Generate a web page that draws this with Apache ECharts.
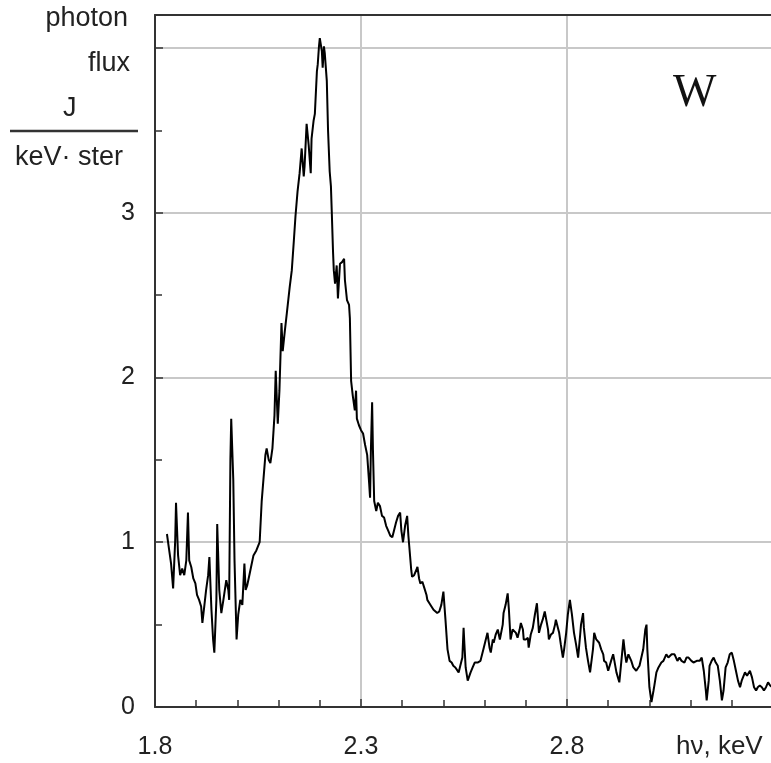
<!DOCTYPE html>
<html>
<head>
<meta charset="utf-8">
<script src="https://cdn.jsdelivr.net/npm/echarts@6/dist/echarts.min.js"></script>
<style>
  html, body { margin: 0; padding: 0; background: #fff; }
  #main { width: 771px; height: 763px; }
</style>
</head>
<body>
<div id="main"></div>
<script>
// photon energy, keV
var energy = [
  1.829, 1.834, 1.839, 1.844, 1.849, 1.851, 1.856, 1.861, 1.866, 1.871,
  1.876, 1.880, 1.883, 1.888, 1.893, 1.898, 1.902, 1.907, 1.912, 1.915,
  1.920, 1.924, 1.929, 1.932, 1.937, 1.941, 1.944, 1.949, 1.951, 1.956,
  1.961, 1.966, 1.973, 1.978, 1.980, 1.983, 1.985, 1.990, 1.993, 1.998,
  2.002, 2.007, 2.012, 2.017, 2.020, 2.024, 2.029, 2.034, 2.039, 2.046,
  2.054, 2.059, 2.063, 2.068, 2.071, 2.076, 2.080, 2.085, 2.090, 2.093,
  2.098, 2.102, 2.107, 2.110, 2.115, 2.120, 2.127, 2.132, 2.137, 2.141,
  2.146, 2.151, 2.156, 2.161, 2.163, 2.168, 2.173, 2.178, 2.180, 2.185,
  2.188, 2.193, 2.195, 2.198, 2.200, 2.205, 2.207, 2.210, 2.212, 2.217,
  2.220, 2.222, 2.224, 2.227, 2.229, 2.232, 2.234, 2.237, 2.241, 2.244,
  2.249, 2.254, 2.259, 2.261, 2.266, 2.271, 2.273, 2.276, 2.280, 2.285,
  2.288, 2.290, 2.295, 2.300, 2.305, 2.310, 2.315, 2.320, 2.322, 2.324,
  2.327, 2.329, 2.332, 2.337, 2.341, 2.346, 2.351, 2.356, 2.361, 2.366,
  2.371, 2.376, 2.380, 2.385, 2.390, 2.395, 2.398, 2.402, 2.407, 2.412,
  2.415, 2.417, 2.422, 2.424, 2.429, 2.434, 2.437, 2.441, 2.444, 2.449,
  2.454, 2.459, 2.461, 2.466, 2.471, 2.476, 2.480, 2.485, 2.490, 2.495,
  2.500, 2.505, 2.510, 2.515, 2.520, 2.524, 2.529, 2.537, 2.541, 2.546,
  2.549, 2.551, 2.554, 2.559, 2.561, 2.566, 2.571, 2.576, 2.583, 2.590,
  2.598, 2.602, 2.607, 2.612, 2.615, 2.620, 2.622, 2.627, 2.632, 2.637,
  2.639, 2.644, 2.646, 2.651, 2.656, 2.659, 2.663, 2.668, 2.671, 2.676,
  2.680, 2.685, 2.688, 2.693, 2.695, 2.700, 2.705, 2.707, 2.712, 2.717,
  2.722, 2.727, 2.732, 2.737, 2.741, 2.746, 2.749, 2.754, 2.756, 2.761,
  2.766, 2.771, 2.773, 2.778, 2.781, 2.785, 2.790, 2.793, 2.798, 2.802,
  2.807, 2.810, 2.812, 2.817, 2.822, 2.827, 2.832, 2.834, 2.839, 2.841,
  2.846, 2.851, 2.856, 2.859, 2.863, 2.866, 2.871, 2.878, 2.883, 2.888,
  2.890, 2.895, 2.900, 2.907, 2.912, 2.915, 2.920, 2.927, 2.932, 2.937,
  2.941, 2.944, 2.949, 2.951, 2.956, 2.961, 2.968, 2.976, 2.980, 2.985,
  2.990, 2.993, 2.995, 3.000, 3.005, 3.010, 3.012, 3.017, 3.022, 3.029,
  3.034, 3.041, 3.046, 3.054, 3.061, 3.068, 3.073, 3.078, 3.085, 3.090,
  3.095, 3.102, 3.107, 3.115, 3.122, 3.127, 3.132, 3.137, 3.139, 3.144,
  3.146, 3.151, 3.156, 3.161, 3.166, 3.171, 3.176, 3.180, 3.185, 3.190,
  3.195, 3.200, 3.205, 3.210, 3.215, 3.220, 3.224, 3.232, 3.237, 3.244,
  3.249, 3.254, 3.259, 3.263, 3.268, 3.273, 3.278, 3.283, 3.288, 3.293,
  3.298
];

// photon flux J, per keV per ster
var flux = [
  1.05, 0.96, 0.87, 0.72, 1.01, 1.24, 0.92, 0.80, 0.84, 0.80,
  0.89, 1.18, 0.89, 0.85, 0.78, 0.75, 0.68, 0.65, 0.61, 0.51,
  0.62, 0.71, 0.80, 0.91, 0.59, 0.41, 0.33, 0.65, 1.11, 0.71,
  0.57, 0.65, 0.77, 0.71, 0.65, 1.50, 1.75, 1.38, 0.89, 0.41,
  0.56, 0.65, 0.62, 0.87, 0.71, 0.74, 0.80, 0.86, 0.92, 0.95,
  1.00, 1.25, 1.26, 1.53, 1.57, 1.50, 1.48, 1.57, 1.77, 2.04,
  1.72, 1.92, 2.33, 2.16, 2.28, 2.39, 2.55, 2.65, 2.83, 2.98,
  3.13, 3.24, 3.39, 3.22, 3.28, 3.54, 3.41, 3.24, 3.45, 3.56,
  3.60, 3.86, 3.90, 4.01, 4.06, 3.98, 3.88, 4.01, 3.97, 3.80,
  3.50, 3.50, 3.25, 3.16, 3.01, 2.77, 2.65, 2.57, 2.68, 2.48,
  2.69, 2.70, 2.72, 2.59, 2.47, 2.44, 2.36, 1.98, 1.89, 1.80,
  1.92, 1.75, 1.71, 1.68, 1.66, 1.59, 1.53, 1.35, 1.27, 1.56,
  1.85, 1.56, 1.25, 1.19, 1.24, 1.22, 1.16, 1.15, 1.10, 1.07,
  1.04, 1.03, 1.07, 1.12, 1.16, 1.18, 1.07, 1.00, 1.10, 1.16,
  1.04, 0.98, 0.83, 0.79, 0.80, 0.83, 0.85, 0.78, 0.75, 0.76,
  0.72, 0.68, 0.65, 0.63, 0.61, 0.59, 0.58, 0.57, 0.58, 0.62,
  0.70, 0.53, 0.35, 0.28, 0.27, 0.25, 0.24, 0.21, 0.25, 0.30,
  0.48, 0.38, 0.24, 0.16, 0.15, 0.21, 0.24, 0.27, 0.27, 0.28,
  0.36, 0.35, 0.45, 0.36, 0.33, 0.41, 0.39, 0.44, 0.47, 0.41,
  0.42, 0.50, 0.57, 0.62, 0.69, 0.59, 0.41, 0.47, 0.48, 0.45,
  0.42, 0.47, 0.51, 0.47, 0.41, 0.41, 0.42, 0.36, 0.44, 0.48,
  0.56, 0.63, 0.45, 0.50, 0.53, 0.58, 0.59, 0.47, 0.41, 0.44,
  0.45, 0.50, 0.53, 0.48, 0.45, 0.38, 0.30, 0.35, 0.45, 0.56,
  0.65, 0.66, 0.56, 0.45, 0.38, 0.30, 0.44, 0.50, 0.57, 0.48,
  0.36, 0.28, 0.21, 0.21, 0.35, 0.45, 0.41, 0.39, 0.35, 0.32,
  0.28, 0.27, 0.22, 0.28, 0.32, 0.28, 0.21, 0.15, 0.28, 0.41,
  0.32, 0.27, 0.32, 0.33, 0.28, 0.24, 0.22, 0.25, 0.24, 0.35,
  0.47, 0.50, 0.35, 0.12, 0.03, 0.10, 0.13, 0.21, 0.24, 0.27,
  0.28, 0.32, 0.30, 0.32, 0.32, 0.28, 0.30, 0.28, 0.27, 0.30,
  0.30, 0.28, 0.27, 0.28, 0.28, 0.30, 0.22, 0.10, 0.04, 0.16,
  0.25, 0.28, 0.30, 0.27, 0.25, 0.16, 0.04, 0.10, 0.24, 0.27,
  0.32, 0.33, 0.28, 0.22, 0.16, 0.12, 0.16, 0.21, 0.19, 0.22,
  0.18, 0.12, 0.10, 0.12, 0.13, 0.12, 0.10, 0.12, 0.15, 0.13,
  0.12
];

// labels
var xLabels = ['1.8', '2.3', '2.8'];
var yLabels = ['0', '1', '2', '3'];
var yName = ['photon', 'flux', 'J', 'keV\u00b7 ster'];
var xName = 'h\u03bd, keV';
var element = 'W';

var myChart = echarts.init(document.getElementById('main'));

var pts = energy.map(function (e, i) { return [e, flux[i]]; });
var txtFont = '"Liberation Sans", Arial, sans-serif';
var axisColor = '#333';
var nameFont = '27px ' + txtFont;

var option = {
  animation: false,
  backgroundColor: '#fff',
  // let the plot run slightly past the right edge, like the scan
  grid: { left: 155, right: -2, top: 15, bottom: 56, outerBoundsMode: 'none' },
  xAxis: [{
    type: 'value',
    min: 1.8,
    max: 3.3,
    interval: 0.5,
    axisLine: { lineStyle: { color: axisColor, width: 2 } },
    axisTick: { inside: true, length: 8, lineStyle: { color: axisColor, width: 1.5 } },
    minorTick: { show: true, splitNumber: 5, length: 7, lineStyle: { color: axisColor, width: 1.5 } },
    splitLine: { show: true, showMaxLine: false, lineStyle: { color: '#c8c8c8', width: 2 } },
    axisLabel: {
      margin: 28,
      fontSize: 25,
      color: '#222',
      fontFamily: txtFont,
      formatter: function (v) {
        var s = v.toFixed(1);
        return xLabels.indexOf(s) >= 0 ? s : '';
      }
    }
  }, {
    // top frame line
    type: 'value',
    position: 'top',
    min: 1.8,
    max: 3.3,
    axisLine: { show: true, lineStyle: { color: axisColor, width: 2 } },
    axisTick: { show: false },
    axisLabel: { show: false },
    splitLine: { show: false }
  }],
  yAxis: {
    type: 'value',
    min: 0,
    max: 4.2,
    interval: 1,
    axisLine: { lineStyle: { color: axisColor, width: 2 } },
    axisTick: { inside: true, length: 8, lineStyle: { color: axisColor, width: 1.5 } },
    minorTick: { show: true, splitNumber: 2, length: 7, lineStyle: { color: axisColor, width: 1.5 } },
    splitLine: { show: true, lineStyle: { color: '#c8c8c8', width: 2 } },
    axisLabel: {
      margin: 20,
      fontSize: 25,
      color: '#222',
      fontFamily: txtFont,
      formatter: function (v) {
        var s = String(Math.round(v * 10) / 10);
        return yLabels.indexOf(s) >= 0 ? s : '';
      }
    }
  },
  series: [{
    type: 'line',
    data: pts,
    showSymbol: false,
    symbol: 'none',
    lineStyle: { color: '#000', width: 2 },
    z: 3
  }],
  graphic: [
    { type: 'text', right: 643, top: 5, style: { text: yName[0], font: nameFont, fill: '#222' } },
    { type: 'text', right: 641, top: 50, style: { text: yName[1], font: nameFont, fill: '#222' } },
    { type: 'text', left: 63, top: 95, style: { text: yName[2], font: nameFont, fill: '#222' } },
    { type: 'line', shape: { x1: 10, y1: 131, x2: 138, y2: 131 }, style: { stroke: '#333', lineWidth: 2.5 } },
    { type: 'text', left: 15, top: 144, style: { text: yName[3], font: nameFont, fill: '#222' } },
    { type: 'text', left: 676, top: 734, style: { text: xName, font: '26px ' + txtFont, fill: '#222' } },
    { type: 'text', left: 673, top: 71, style: { text: element, font: '46px "Liberation Serif", "Times New Roman", serif', fill: '#111' } }
  ]
};

myChart.setOption(option);
</script>
</body>
</html>
